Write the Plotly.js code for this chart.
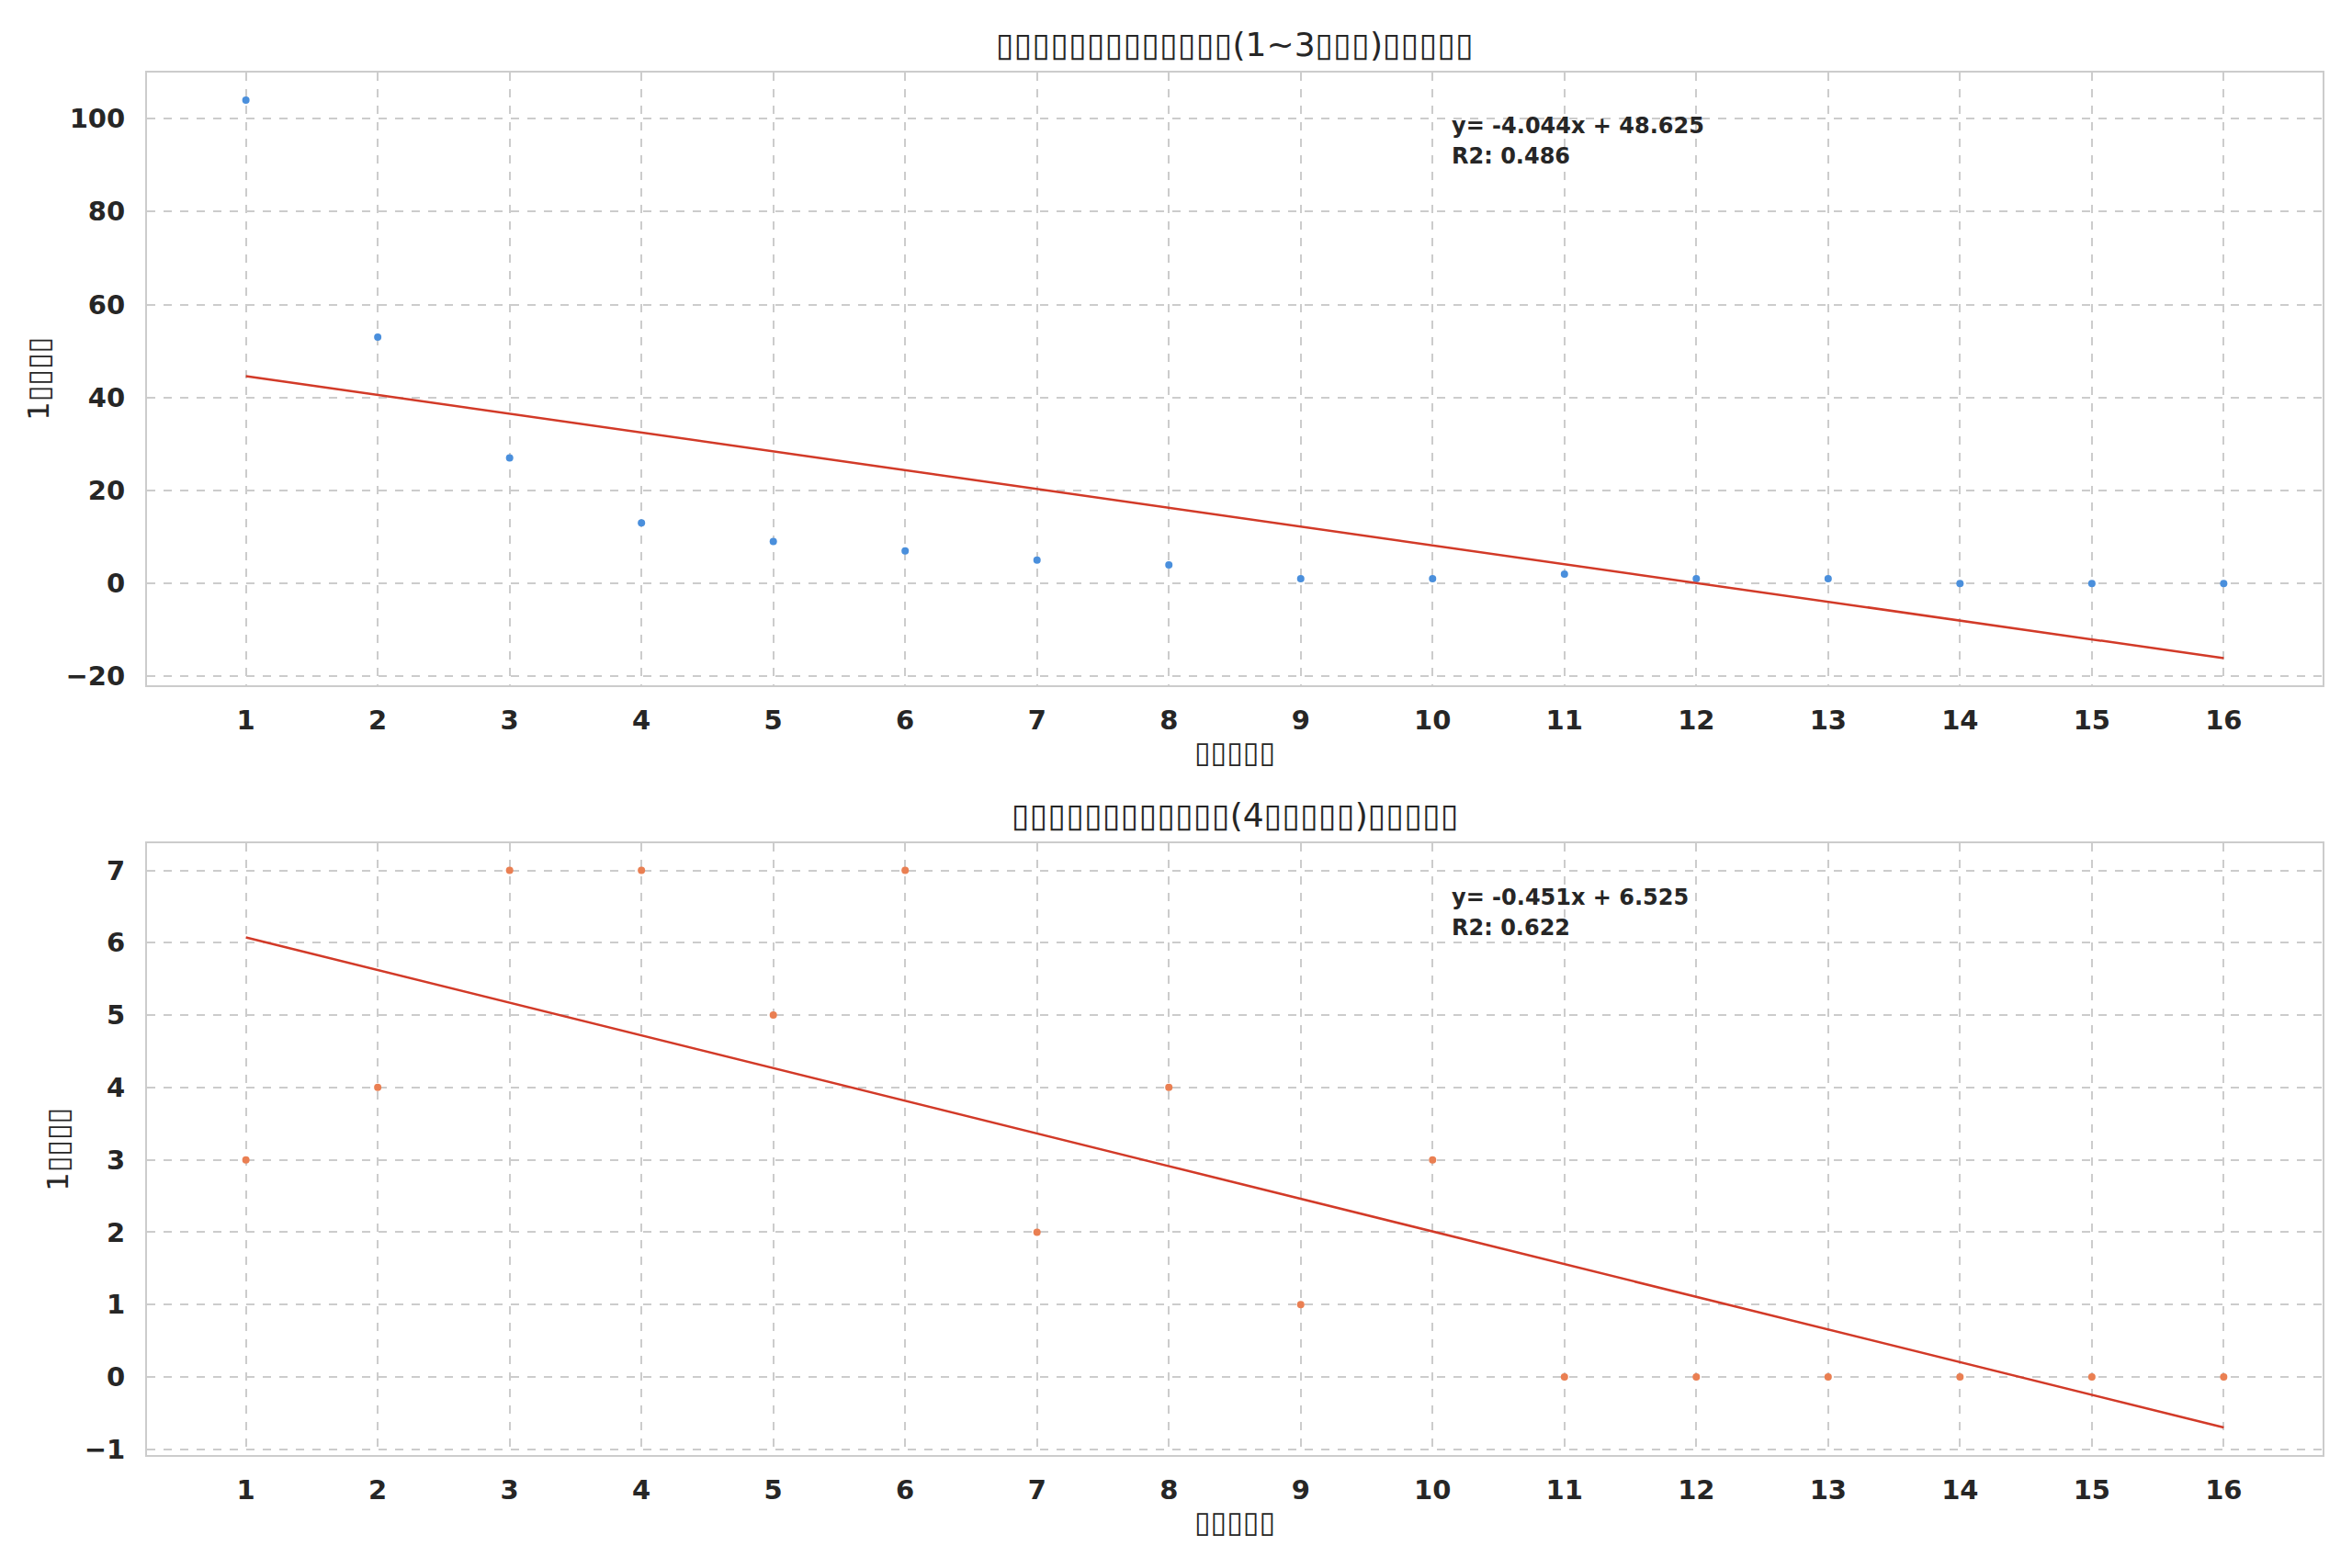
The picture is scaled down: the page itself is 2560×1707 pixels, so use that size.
<!DOCTYPE html>
<html>
<head>
<meta charset="utf-8">
<script src="https://cdn.plot.ly/plotly-3.0.1.min.js"></script>
<style>
  body { margin: 0; background: #fff; }
  #chart { width: 2560px; height: 1707px; }
</style>
</head>
<body>
<div id="chart"></div>
<script>
// months since publish (x) and counts (y) for both groups
const months = [1, 2, 3, 4, 5, 6, 7, 8, 9, 10, 11, 12, 13, 14, 15, 16];
const shortTerm = [104, 53, 27, 13, 9, 7, 5, 4, 1, 1, 2, 1, 1, 0, 0, 0];
const longTerm = [3, 4, 7, 7, 5, 7, 2, 4, 1, 3, 0, 0, 0, 0, 0, 0];

// the original text rendered as missing-glyph boxes
const titleTop = "▯▯▯▯▯▯▯▯▯▯▯▯▯(1~3▯▯▯)▯▯▯▯▯";
const titleBottom = "▯▯▯▯▯▯▯▯▯▯▯▯(4▯▯▯▯▯)▯▯▯▯▯";
const xLabel = "▯▯▯▯▯";
const yLabel = "1▯▯▯▯";

// least squares fit, like the original regression
function fit(x, y) {
  const n = x.length;
  const mx = x.reduce((a, b) => a + b, 0) / n;
  const my = y.reduce((a, b) => a + b, 0) / n;
  let sxy = 0, sxx = 0, syy = 0;
  for (let i = 0; i < n; i++) {
    sxy += (x[i] - mx) * (y[i] - my);
    sxx += (x[i] - mx) ** 2;
    syy += (y[i] - my) ** 2;
  }
  const slope = sxy / sxx;
  const intercept = my - slope * mx;
  return { slope, intercept, r2: (sxy * sxy) / (sxx * syy) };
}

const f1 = fit(months, shortTerm);
const f2 = fit(months, longTerm);

const ends = [months[0], months[months.length - 1]];
function lineY(f) { return ends.map(v => f.slope * v + f.intercept); }

function eqText(f) {
  const sign = f.intercept >= 0 ? "+" : "-";
  return "y= " + f.slope.toFixed(3) + "x " + sign + " " + Math.abs(f.intercept).toFixed(3);
}
function r2Text(f) { return "R2: " + f.r2.toFixed(3); }

const tickFont = { family: "DejaVu Sans", size: 29, color: "#262626", weight: "bold" };
const labelFont = { family: "DejaVu Sans", size: 32, color: "#262626" };
const gridColor = "#cccccc";

function xAxis(anchor) {
  return {
    domain: [0.0625, 0.9875], anchor: anchor, range: [0.25, 16.75],
    tickmode: "array", tickvals: months, ticktext: months.map(String),
    tickfont: tickFont, ticks: "outside", ticklen: 11, tickcolor: "rgba(0,0,0,0)",
    showgrid: true, gridcolor: gridColor, griddash: "dash", gridwidth: 2,
    zeroline: false, showline: true, mirror: true, linecolor: gridColor, linewidth: 2,
    title: { text: xLabel, font: labelFont, standoff: 8 },
    automargin: false
  };
}

function yAxis(anchor, domain, range, dtick) {
  return {
    domain: domain, anchor: anchor, range: range, dtick: dtick, tick0: 0,
    tickfont: tickFont, ticks: "outside", ticklen: 16, tickcolor: "rgba(0,0,0,0)",
    showgrid: true, gridcolor: gridColor, griddash: "dash", gridwidth: 2,
    zeroline: false, showline: true, mirror: true, linecolor: gridColor, linewidth: 2,
    title: { text: yLabel, font: labelFont, standoff: 8 },
    automargin: false
  };
}

const data = [
  { x: months, y: shortTerm, xaxis: "x", yaxis: "y", type: "scatter", mode: "markers",
    marker: { color: "#4a8fdc", size: 8 } },
  { x: ends, y: lineY(f1), xaxis: "x", yaxis: "y", type: "scatter", mode: "lines",
    line: { color: "#d23a28", width: 2.5 } },
  { x: months, y: longTerm, xaxis: "x2", yaxis: "y2", type: "scatter", mode: "markers",
    marker: { color: "#ea7f52", size: 8 } },
  { x: ends, y: lineY(f2), xaxis: "x2", yaxis: "y2", type: "scatter", mode: "lines",
    line: { color: "#d23a28", width: 2.5 } }
];

const annFont = { family: "DejaVu Sans", size: 24, color: "#262626", weight: "bold" };
const titleFont = { family: "DejaVu Sans", size: 36, color: "#262626" };

function fitNotes(f, xa, ya) {
  return [
    { text: eqText(f), xref: xa + " domain", yref: ya + " domain", x: 0.599, y: 0.912,
      xanchor: "left", yanchor: "middle", showarrow: false, font: annFont },
    { text: r2Text(f), xref: xa + " domain", yref: ya + " domain", x: 0.599, y: 0.863,
      xanchor: "left", yanchor: "middle", showarrow: false, font: annFont }
  ];
}

const layout = {
  width: 2560, height: 1707,
  margin: { l: 0, r: 0, t: 0, b: 0 },
  paper_bgcolor: "#ffffff", plot_bgcolor: "#ffffff",
  showlegend: false,
  xaxis: xAxis("y"),
  yaxis: yAxis("x", [0.563, 0.954], [-21.9, 110], 20),
  xaxis2: xAxis("y2"),
  yaxis2: yAxis("x2", [0.072, 0.462], [-1.08, 7.37], 1),
  annotations: [
    { text: titleTop, xref: "x domain", yref: "y domain", x: 0.5, y: 1.012,
      xanchor: "center", yanchor: "bottom", showarrow: false, font: titleFont },
    { text: titleBottom, xref: "x2 domain", yref: "y2 domain", x: 0.5, y: 1.012,
      xanchor: "center", yanchor: "bottom", showarrow: false, font: titleFont }
  ].concat(fitNotes(f1, "x", "y"), fitNotes(f2, "x2", "y2"))
};

Plotly.newPlot("chart", data, layout, { staticPlot: true });
</script>
</body>
</html>
